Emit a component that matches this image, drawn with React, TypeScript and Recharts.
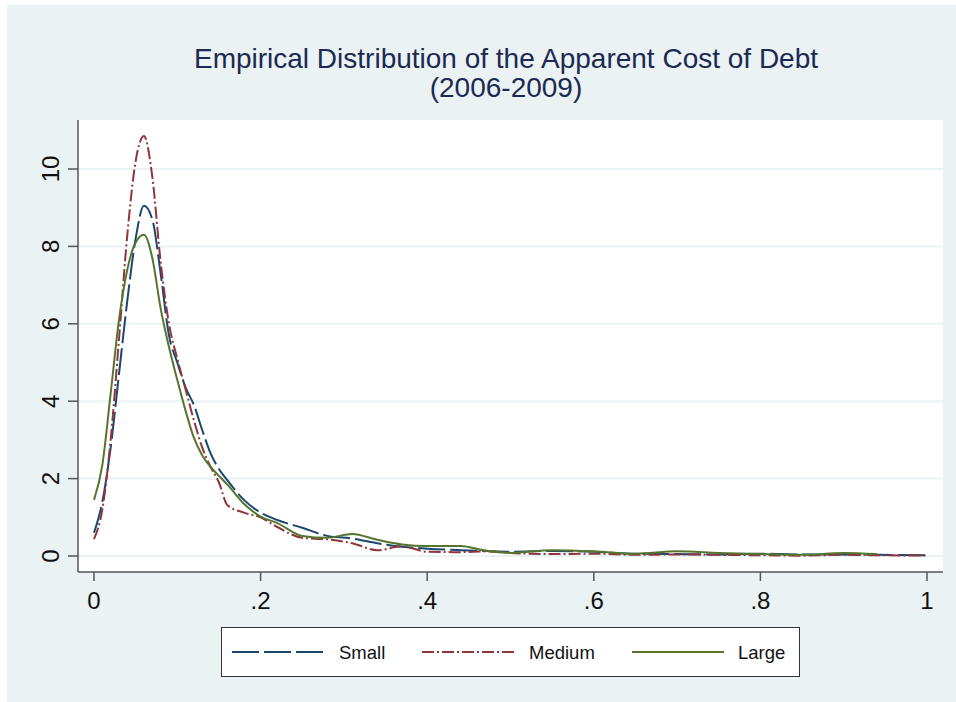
import React from 'react';
import { LineChart, Line, XAxis, YAxis, CartesianGrid } from 'recharts';

// grid of cost-of-debt values
const xs = [
  0, 0.01, 0.02, 0.03, 0.04, 0.05, 0.06, 0.07, 0.08, 0.09, 0.1, 0.11, 0.12, 0.13, 0.14, 0.15,
  0.16, 0.18, 0.2, 0.22, 0.25, 0.28, 0.31, 0.34, 0.37, 0.4, 0.44, 0.47, 0.5, 0.55, 0.6, 0.65,
  0.7, 0.75, 0.8, 0.85, 0.9, 0.94, 1.0,
];
const small = [
  0.6, 1.4, 2.8, 4.7, 6.6, 8.2, 9.05, 8.7, 7.3, 5.7, 5.0, 4.35, 3.9, 3.25, 2.65, 2.25,
  1.96, 1.45, 1.12, 0.93, 0.73, 0.52, 0.45, 0.33, 0.24, 0.19, 0.15, 0.13, 0.11, 0.13, 0.11, 0.06,
  0.05, 0.04, 0.06, 0.04, 0.04, 0.03, 0.02,
];
const medium = [
  0.44, 1.2, 3.0, 5.6, 8.3, 10.2, 10.85, 9.8, 7.6, 6.0, 5.1, 4.3, 3.5, 2.8, 2.3, 1.9,
  1.32, 1.12, 1.0, 0.75, 0.47, 0.43, 0.33, 0.15, 0.25, 0.11, 0.1, 0.12, 0.08, 0.05, 0.06, 0.03,
  0.04, 0.03, 0.02, 0.01, 0.03, 0.02, 0.01,
];
const large = [
  1.45, 2.35, 4.2, 6.1, 7.4, 8.1, 8.3, 7.7, 6.4, 5.4, 4.55, 3.75, 3.05, 2.6, 2.3, 2.07,
  1.85, 1.35, 1.02, 0.85, 0.52, 0.47, 0.57, 0.42, 0.3, 0.26, 0.26, 0.14, 0.08, 0.15, 0.12, 0.06,
  0.12, 0.08, 0.05, 0.03, 0.08, 0.05, null,
];

const yTicks = [0, 2, 4, 6, 8, 10];
const xTicks = [0, 0.2, 0.4, 0.6, 0.8, 1];
const xTickLabels = ['0', '.2', '.4', '.6', '.8', '1'];

const seriesNames = ['Small', 'Medium', 'Large'];

const data = xs.map((x, i) => ({ x, small: small[i], medium: medium[i], large: large[i] }));

const FONT = '"Liberation Sans", Arial, Helvetica, sans-serif';
const BG = '#eaf2f3';
const NAVY = '#1a476f';
const MAROON = '#90353b';
const GREEN = '#55752f';
const SMALL_DASH = '27 5';
const MEDIUM_DASH = '12 3 2 3';

const YTick = (props: any) => {
  const { y, payload } = props;
  return (
    <text
      transform={`translate(50, ${y}) rotate(-90)`}
      textAnchor="middle"
      dominantBaseline="central"
      fontSize={24}
      fontFamily={FONT}
      fill="#111"
    >
      {payload.value}
    </text>
  );
};

const XTick = (props: any) => {
  const { x, payload } = props;
  const i = xTicks.indexOf(payload.value);
  return (
    <text x={x} y={609} textAnchor="middle" fontSize={24} fontFamily={FONT} fill="#111">
      {xTickLabels[i] ?? payload.value}
    </text>
  );
};

const legendItems = [
  { name: seriesNames[0], color: NAVY, dash: SMALL_DASH, lineX: 10, textX: 117 },
  { name: seriesNames[1], color: MAROON, dash: MEDIUM_DASH, lineX: 200, textX: 307 },
  { name: seriesNames[2], color: GREEN, dash: undefined, lineX: 410, textX: 516 },
];

export default function App() {
  return (
    <div style={{ position: 'absolute', left: 0, top: 0, width: 956, height: 702, background: '#fff', overflow: 'hidden' }}>
      <div style={{ position: 'absolute', left: 7, top: 5, width: 949, height: 697, background: BG }} />

      <div
        style={{
          position: 'absolute', left: 0, width: 1012, top: 44, textAlign: 'center',
          fontFamily: FONT, fontSize: 28, color: '#1c2952', lineHeight: '29px',
        }}
      >
        <div>Empirical Distribution of the Apparent Cost of Debt</div>
        <div>(2006-2009)</div>
      </div>

      <div style={{ position: 'absolute', left: 0, top: 0 }}>
        <LineChart width={956} height={702} data={data} margin={{ top: 120, right: 13, left: 0, bottom: 0 }}>
          <CartesianGrid vertical={false} stroke={BG} strokeWidth={2} fill="#fff" horizontalValues={yTicks} />
          <XAxis
            dataKey="x" type="number" domain={[-0.0192, 1.0192]} allowDataOverflow
            ticks={xTicks} tick={<XTick />} height={130} tickSize={9}
            stroke="#555" strokeWidth={1.5} tickLine={{ stroke: '#555', strokeWidth: 1.5 }}
          />
          <YAxis
            type="number" domain={[-0.413, 11.266]} allowDataOverflow
            ticks={yTicks} tick={<YTick />} width={78} tickSize={10}
            stroke="#555" strokeWidth={1.5} tickLine={{ stroke: '#555', strokeWidth: 1.5 }}
          />
          <Line type="monotone" dataKey="small" name={seriesNames[0]} stroke={NAVY} strokeWidth={2}
            strokeDasharray={SMALL_DASH} dot={false} isAnimationActive={false} />
          <Line type="monotone" dataKey="medium" name={seriesNames[1]} stroke={MAROON} strokeWidth={2}
            strokeDasharray={MEDIUM_DASH} dot={false} isAnimationActive={false} />
          <Line type="monotone" dataKey="large" name={seriesNames[2]} stroke={GREEN} strokeWidth={2}
            dot={false} isAnimationActive={false} />
        </LineChart>
      </div>

      <div
        style={{
          position: 'absolute', left: 221, top: 627, width: 577, height: 48,
          background: '#fff', border: '1px solid #333',
        }}
      >
        <svg width={577} height={48}>
          {legendItems.map((it) => (
            <g key={it.name}>
              <line x1={it.lineX} x2={it.lineX + 92} y1={24} y2={24} stroke={it.color} strokeWidth={2}
                strokeDasharray={it.dash} />
              <text x={it.textX} y={31} fontSize={18.5} fontFamily={FONT} fill="#111">{it.name}</text>
            </g>
          ))}
        </svg>
      </div>
    </div>
  );
}
